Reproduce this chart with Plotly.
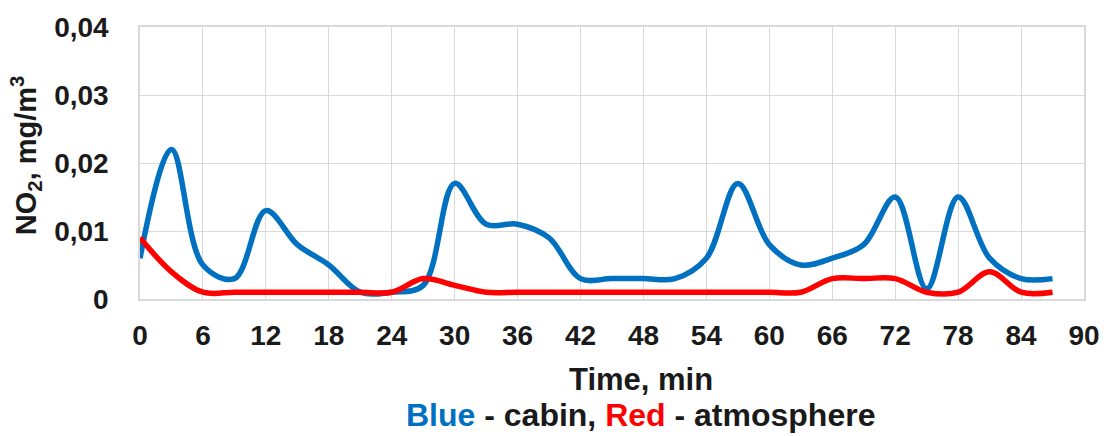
import plotly.graph_objects as go

time_min = [0, 3, 6, 9, 12, 15, 18, 21, 24, 27, 30, 33, 36, 39, 42, 45, 48, 51,
            54, 57, 60, 63, 66, 69, 72, 75, 78, 81, 84, 87]
cabin = [0.006, 0.022, 0.005, 0.003, 0.013, 0.008, 0.005, 0.001, 0.001, 0.002,
         0.017, 0.011, 0.011, 0.009, 0.003, 0.003, 0.003, 0.003, 0.006, 0.017,
         0.008, 0.005, 0.006, 0.008, 0.015, 0.0015, 0.015, 0.006, 0.003, 0.003]
atmosphere = [0.009, 0.004, 0.001, 0.001, 0.001, 0.001, 0.001, 0.001, 0.001, 0.003,
              0.002, 0.001, 0.001, 0.001, 0.001, 0.001, 0.001, 0.001, 0.001, 0.001,
              0.001, 0.001, 0.003, 0.003, 0.003, 0.001, 0.001, 0.004, 0.001, 0.001]
x_ticks = list(range(0, 91, 6))
y_tickvals = [0, 0.01, 0.02, 0.03, 0.04]
y_ticktext = ["0", "0,01", "0,02", "0,03", "0,04"]

BLUE = "#0070C0"
RED = "#FF0000"
TXT = "#1A1A1A"
FONT = "Liberation Sans, Arial, sans-serif"

fig = go.Figure()
fig.add_trace(go.Scatter(x=time_min, y=cabin, mode="lines",
                         line=dict(color=BLUE, width=5.5, shape="spline", smoothing=1),
                         name="cabin"))
fig.add_trace(go.Scatter(x=time_min, y=atmosphere, mode="lines",
                         line=dict(color=RED, width=5.5, shape="spline", smoothing=1),
                         name="atmosphere"))

L, R, T, B = 140, 20, 21, 137
W, H = 1112, 436
pw = W - L - R
ph = H - T - B

fig.update_layout(
    width=W, height=H,
    margin=dict(l=L, r=R, t=T, b=B, pad=0),
    paper_bgcolor="white", plot_bgcolor="white",
    showlegend=False,
    font=dict(family=FONT, color=TXT, size=28, weight="bold"),
)
fig.update_xaxes(
    range=[0, 90], tickvals=x_ticks, ticktext=[str(v) for v in x_ticks],
    showgrid=True, gridcolor="#D9D9D9", gridwidth=1.3,
    showline=True, linecolor="#D9D9D9", linewidth=1.5, mirror=True,
    zeroline=False, ticks="", ticklabelstandoff=11,
    tickfont=dict(family=FONT, size=28, color=TXT, weight="bold"),
)
fig.update_yaxes(
    range=[0, 0.04], tickvals=y_tickvals, ticktext=y_ticktext,
    showgrid=True, gridcolor="#D9D9D9", gridwidth=1.3,
    showline=True, linecolor="#D9D9D9", linewidth=1.5, mirror=True,
    zeroline=False, ticks="", ticklabelstandoff=24,
    tickfont=dict(family=FONT, size=28, color=TXT, weight="bold"),
)

def px_x(p):
    return (p - L) / pw

def px_y(p):
    return (H - B - p) / ph

fig.add_annotation(x=px_x(645), y=px_y(381), xref="paper", yref="paper",
                   text="Time, min", showarrow=False, xanchor="center", yanchor="middle",
                   font=dict(family=FONT, size=31, color=TXT, weight="bold"))
fig.add_annotation(x=px_x(645), y=px_y(418), xref="paper", yref="paper",
                   text=f"<span style='color:{BLUE}'>Blue</span> - cabin, "
                        f"<span style='color:{RED}'>Red</span> - atmosphere",
                   showarrow=False, xanchor="center", yanchor="middle",
                   font=dict(family=FONT, size=32, color=TXT, weight="bold"))
fig.add_annotation(x=px_x(25), y=px_y(152), xref="paper", yref="paper",
                   text="NO<sub>2</sub>, mg/m<sup>3</sup>", textangle=-90,
                   showarrow=False, xanchor="center", yanchor="middle",
                   font=dict(family=FONT, size=29, color=TXT, weight="bold"))

fig.write_html("out.html")
